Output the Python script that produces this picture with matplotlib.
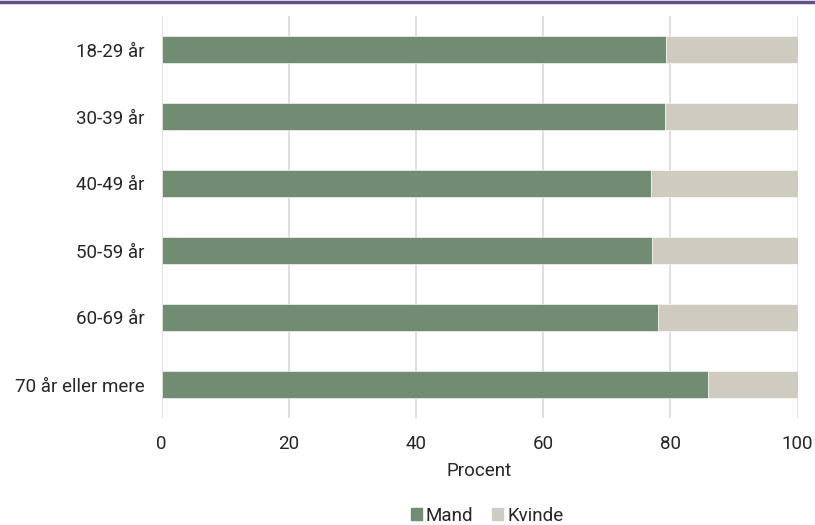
import matplotlib
matplotlib.use("Agg")
import matplotlib.pyplot as plt
from matplotlib.patches import Patch
import matplotlib.lines as mlines

plt.rcParams['font.family'] = ['Roboto', 'DejaVu Sans']

categories = ["18-29 år", "30-39 år", "40-49 år", "50-59 år", "60-69 år", "70 år eller mere"]
mand = [79.4, 79.2, 77.0, 77.2, 78.1, 85.9]
kvinde = [100 - v for v in mand]
xticks = [0, 20, 40, 60, 80, 100]

c_mand = "#728C73"
c_kvinde = "#CFCBC0"
txt = "#262626"

fig = plt.figure(figsize=(8.15, 5.25), dpi=100)
ax = fig.add_axes([161.5/815, 1 - 418/525, (797.5-161.5)/815, (418-16)/525])

y = list(range(len(categories)))
ax.barh(y, mand, height=0.39, color=c_mand, label="Mand", zorder=3, edgecolor="white", linewidth=0.4)
ax.barh(y, kvinde, left=mand, height=0.39, color=c_kvinde, label="Kvinde", zorder=3, edgecolor="white", linewidth=0.4)

ax.set_ylim(len(categories) - 0.5, -0.5)
ax.set_xlim(0, 100)
ax.set_yticks(y)
ax.set_yticklabels(categories, fontsize=13.5, color=txt)
ax.set_xticks(xticks)
ax.set_xticklabels([str(t) for t in xticks], fontsize=13.5, color=txt)
ax.tick_params(axis='y', length=0, pad=12)
ax.tick_params(axis='x', length=0, pad=12)
ax.xaxis.grid(True, color="#D9D9D9", linewidth=1.2, zorder=0)
for s in ax.spines.values():
    s.set_visible(False)
ax.set_xlabel("Procent", fontsize=13.5, color=txt, labelpad=7)

fig.legend(handles=[Patch(color=c_mand, label="Mand"), Patch(color=c_kvinde, label="Kvinde")],
           loc="center", bbox_to_anchor=(487/815, 1 - 516/525), ncol=2, frameon=False,
           fontsize=13.5, handlelength=0.6, handleheight=0.6, handletextpad=0.2, columnspacing=1.0,
           labelcolor=txt, borderpad=0.1)

fig.add_artist(mlines.Line2D([0, 1], [1 - 1.5/525, 1 - 1.5/525], transform=fig.transFigure,
                             color="#634F8A", linewidth=2.5))

fig.savefig("out.png", dpi=100)
